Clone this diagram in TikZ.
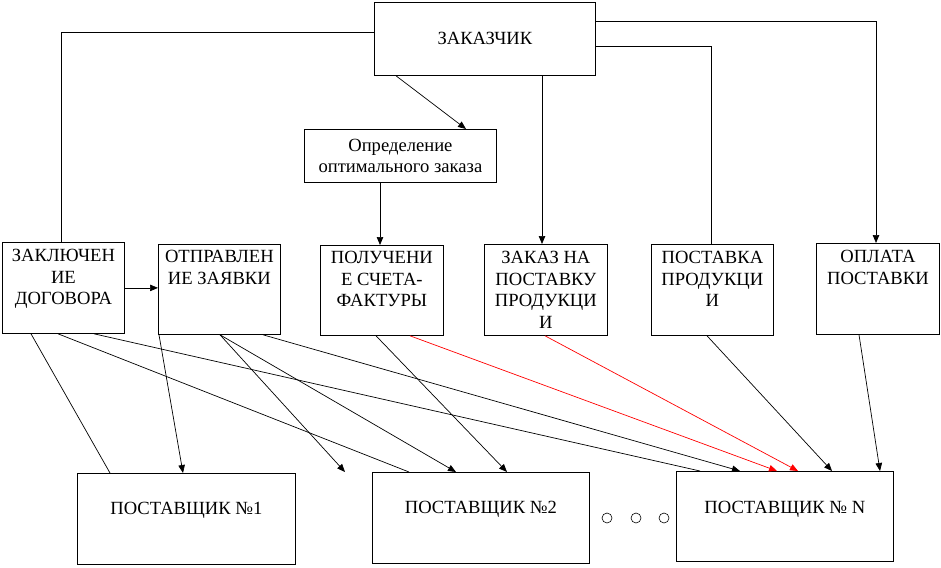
\documentclass[tikz,border=0pt]{standalone}
\usepackage{fontspec}
\setmainfont{Liberation Serif}
\usetikzlibrary{arrows.meta}
\begin{document}
\begin{tikzpicture}[x=1pt,y=-1pt,
  box/.style={draw, line width=0.8pt, rectangle, inner sep=0pt, anchor=north west},
  lbl/.style={font=\fontsize{18.6}{21.5}\selectfont, align=center, inner sep=0pt, anchor=north},
  conn/.style={line width=0.7pt},
  arr/.style={conn, -{Triangle[length=8pt,width=6.5pt]}},
  rarr/.style={arr, red},
  dot/.style={circle, draw, line width=0.6pt, minimum size=10pt, inner sep=0pt}]
\useasboundingbox (0,0) rectangle (941,567);
% top boxes
\node[box, minimum width=221pt, minimum height=73pt, font=\fontsize{18.6}{21.5}\selectfont] (zak) at (374,2) {ЗАКАЗЧИК};
\node[box, minimum width=192pt, minimum height=53pt, align=center, font=\fontsize{18.6}{21.5}\selectfont] (opr) at (304,129) {Определение\\оптимального заказа};
% middle boxes
\node[box, minimum width=122pt, minimum height=91pt] (b1) at (2,242) {};
\node[box, minimum width=122pt, minimum height=90pt] (b2) at (158,244) {};
\node[box, minimum width=123pt, minimum height=90pt] (b3) at (320,245) {};
\node[box, minimum width=123pt, minimum height=91pt] (b4) at (484,244) {};
\node[box, minimum width=122pt, minimum height=91pt] (b5) at (651,244) {};
\node[box, minimum width=123pt, minimum height=91pt] (b6) at (816,243) {};
\node[lbl] (t1) at ([yshift=-7pt]b1.north) {ЗАКЛЮЧЕН\\ИЕ\\ДОГОВОРА};
\node[lbl] (t2) at ([yshift=-6pt]b2.north) {ОТПРАВЛЕН\\ИЕ ЗАЯВКИ};
\node[lbl] (t3) at ([yshift=-6pt]b3.north) {ПОЛУЧЕНИ\\Е СЧЕТА-\\ФАКТУРЫ};
\node[lbl] (t4) at ([yshift=-7pt]b4.north) {ЗАКАЗ НА\\ПОСТАВКУ\\ПРОДУКЦИ\\И};
\node[lbl] (t5) at ([yshift=-7pt]b5.north) {ПОСТАВКА\\ПРОДУКЦИ\\И};
\node[lbl] (t6) at ([yshift=-7pt]b6.north) {ОПЛАТА\\ПОСТАВКИ};
% bottom boxes
\node[box, minimum width=218pt, minimum height=91pt] (p1) at (77,473) {};
\node[box, minimum width=217pt, minimum height=91pt] (p2) at (372,472) {};
\node[box, minimum width=217pt, minimum height=90pt] (pN) at (676,471) {};
\node[lbl] (tp1) at ([yshift=-29pt]p1.north) {ПОСТАВЩИК №1};
\node[lbl] (tp2) at ([yshift=-29pt]p2.north) {ПОСТАВЩИК №2};
\node[lbl] (tpN) at ([yshift=-30pt]pN.north) {ПОСТАВЩИК № N};
\node[dot] (c1) at (607,518) {};
\node[dot] (c2) at (636,518) {};
\node[dot] (c3) at (664,518) {};
\coordinate (free) at (345,472);
% connectors from customer
\draw[conn] ([yshift=-30pt]zak.north west) -| ([xshift=59pt]b1.north west);
\draw[arr] ([yshift=-19pt]zak.north east) -| ([xshift=60pt]b6.north west);
\draw[conn] ([yshift=-44pt]zak.north east) -| ([xshift=60pt]b5.north west);
\draw[arr] ([xshift=168pt]zak.south west) -- ([xshift=58pt]b4.north west);
\draw[arr] ([xshift=22pt]zak.south west) -- ([xshift=162pt]opr.north west);
\draw[arr] ([xshift=76pt]opr.south west) -- ([xshift=60pt]b3.north west);
\draw[arr] (b1.east) -- (b2.west |- b1.east);
% lower connectors
\draw[conn] ([xshift=29pt]b1.south west) -- ([xshift=33pt]p1.north west);
\draw[conn] ([xshift=56pt]b1.south west) -- ([xshift=37pt]p2.north west);
\draw[conn] ([xshift=92pt]b1.south west) -- ([xshift=24pt]pN.north west);
\draw[arr] ([xshift=1pt]b2.south west) -- ([xshift=106pt]p1.north west);
\draw[arr] ([xshift=62pt]b2.south west) -- (free);
\draw[arr] ([xshift=62pt]b2.south west) -- ([xshift=84pt]p2.north west);
\draw[arr] ([xshift=105pt]b2.south west) -- ([xshift=64pt]pN.north west);
\draw[arr] ([xshift=56pt]b3.south west) -- ([xshift=135pt]p2.north west);
\draw[rarr] ([xshift=90pt]b3.south west) -- ([xshift=101pt]pN.north west);
\draw[rarr] ([xshift=61pt]b4.south west) -- ([xshift=122pt]pN.north west);
\draw[arr] ([xshift=56pt]b5.south west) -- ([xshift=156pt]pN.north west);
\draw[arr] ([xshift=43pt]b6.south west) -- ([xshift=204pt]pN.north west);
\end{tikzpicture}
\end{document}
